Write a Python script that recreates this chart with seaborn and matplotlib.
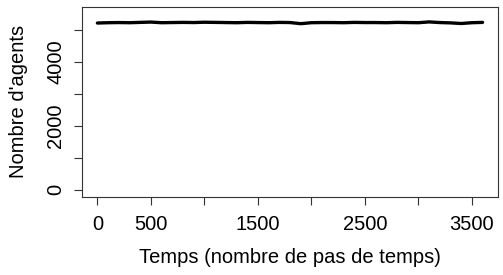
import numpy as np
import pandas as pd
import seaborn as sns
import matplotlib.pyplot as plt

# values, one every 100 time steps
temps = list(range(0, 3700, 100))
agents = [5215, 5225, 5230, 5225, 5235, 5245, 5225, 5230, 5235, 5230,
          5240, 5235, 5230, 5225, 5235, 5230, 5225, 5235, 5230, 5195,
          5225, 5230, 5230, 5225, 5235, 5230, 5230, 5225, 5235, 5230,
          5225, 5250, 5230, 5220, 5200, 5225, 5235]

x_ticks = [0, 500, 1000, 1500, 2000, 2500, 3000, 3500]
x_labels = ['0', '500', '', '1500', '', '2500', '', '3500']
y_ticks = [0, 1000, 2000, 3000, 4000, 5000]
y_labels = ['0', '', '2000', '', '4000', '']

df = pd.DataFrame({'Temps': temps, 'Agents': agents})

sns.set_style('ticks')
plt.rcParams['font.family'] = ['Liberation Sans', 'DejaVu Sans']
plt.rcParams['text.color'] = 'black'
plt.rcParams['axes.labelcolor'] = 'black'
plt.rcParams['xtick.color'] = '#333333'
plt.rcParams['ytick.color'] = '#333333'
plt.rcParams['xtick.labelcolor'] = 'black'
plt.rcParams['ytick.labelcolor'] = 'black'

fig = plt.figure(figsize=(5.03, 2.75), dpi=100)
ax = fig.add_axes([0.163, 0.284, 0.827, 0.691])
sns.lineplot(x='Temps', y='Agents', data=df, color='black', linewidth=2.4, ax=ax)

ax.set_xlim(-0.04 * 3600, 3600 * 1.04)
ax.set_ylim(-0.04 * 5500, 5500 * 1.04)
ax.set_xticks(x_ticks)
ax.set_xticklabels(x_labels, fontsize=14.5)
ax.set_yticks(y_ticks)
ax.set_yticklabels(y_labels, fontsize=14.5, rotation=90, va='center')
ax.tick_params(axis='x', length=6, width=0.8, pad=7)
ax.tick_params(axis='y', length=6, width=0.8, pad=6)
for s in ax.spines.values():
    s.set_color('#333333')
    s.set_linewidth(0.8)
ax.set_xlabel('Temps (nombre de pas de temps)', fontsize=14.5, labelpad=10)
ax.set_ylabel("Nombre d'agents", fontsize=14.5, labelpad=13)

plt.savefig('out.png', dpi=100)
